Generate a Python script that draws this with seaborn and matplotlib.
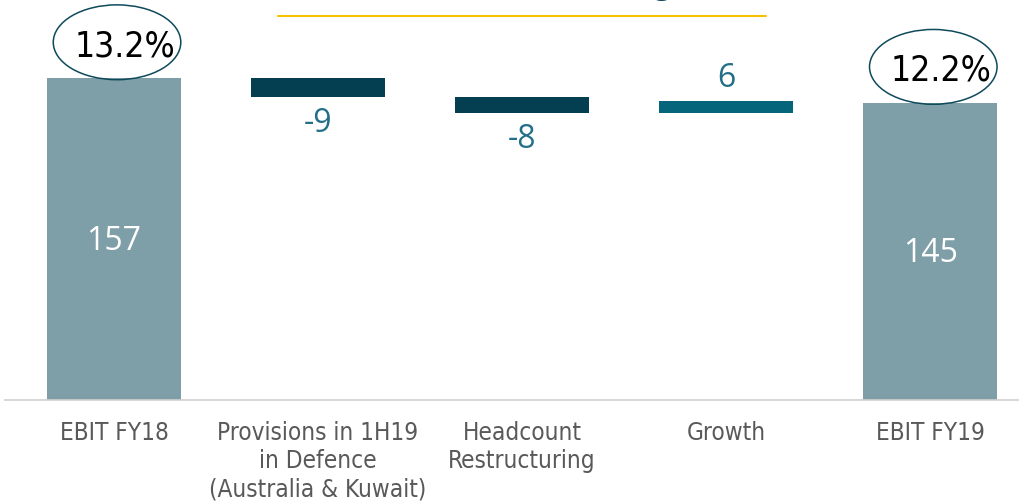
import numpy as np
import pandas as pd
import matplotlib
matplotlib.use("Agg")
import matplotlib.pyplot as plt
from matplotlib.patches import Ellipse
from matplotlib import font_manager
import seaborn as sns

# EBIT bridge FY18 -> FY19
categories = ["EBIT FY18", "Provisions in 1H19\nin Defence\n(Australia & Kuwait)",
              "Headcount\nRestructuring", "Growth", "EBIT FY19"]
changes = [157, -9, -8, 6, 145]
kinds = ["total", "delta", "delta", "delta", "total"]
margins = {0: "13.2%", 4: "12.2%"}

colors = {"total": "#7F9FA8", "neg": "#033F50", "pos": "#05657B"}

sns.set_theme(style="white")
plt.rcParams["font.family"] = ["Open Sans", "DejaVu Sans"]

# pick a condensed face for the category labels if one is installed
cond = [f for f in font_manager.fontManager.ttflist
        if "ondensed" in f.name or "Narrow" in f.name or f.stretch in ("condensed", "semi-condensed")]
cond_family = cond[0].name if cond else "DejaVu Sans"
cond_stretch = cond[0].stretch if cond else "normal"

# waterfall geometry
bottoms, heights, tops = [], [], []
running = 0
for kind, v in zip(kinds, changes):
    if kind == "total":
        bottoms.append(0)
        heights.append(v)
        running = v
    else:
        lo = min(running, running + v)
        bottoms.append(lo)
        heights.append(abs(v))
        running += v
    tops.append(bottoms[-1] + heights[-1])

df = pd.DataFrame({"cat": categories, "height": heights})

fig = plt.figure(figsize=(10.2, 5.01), dpi=100)
ax = fig.add_axes([5 / 1020, 101 / 501, 1 - 5 / 1020, 400 / 501])

sns.barplot(data=df, x="cat", y="height", bottom=np.array(bottoms, float),
            width=0.657, color=colors["total"], ax=ax, errorbar=None)
for p, kind, v in zip(ax.patches, kinds, changes):
    if kind == "total":
        p.set_facecolor(colors["total"])
    else:
        p.set_facecolor(colors["neg"] if v < 0 else colors["pos"])
    p.set_edgecolor("none")

ax.set_xlim(-0.534, 4.44)
ax.set_ylim(0, 400 / 2.05)

# value labels
lbl = dict(fontsize=23, ha="center", va="center")
for i, (kind, v) in enumerate(zip(kinds, changes)):
    if kind == "total":
        ax.text(i, v * 0.494, f"{v}", color="white", **lbl)
    elif v < 0:
        ax.text(i, bottoms[i] - 13, f"{v}", color="#226F87", **lbl)
    else:
        ax.text(i, tops[i] + 11, f"{v}", color="#226F87", **lbl)

# margin callouts
for i, txt in margins.items():
    y = tops[i] + 15.5
    ax.text(i + 0.055, y, txt, fontsize=25.5, ha="center", va="center", color="black",
            family=[cond_family, "DejaVu Sans"], fontstretch=cond_stretch)
    ax.add_patch(Ellipse((i + 0.015, y + 2), 0.625, 36.5, fill=False,
                         edgecolor="#0E4A5A", lw=1.1, clip_on=False))

# x axis
ax.set_xticks(range(len(categories)))
ax.set_xticklabels(categories, fontsize=17.5, color="#595959",
                   family=[cond_family, "DejaVu Sans"], fontstretch=cond_stretch,
                   linespacing=1.22)
ax.tick_params(axis="x", length=0, pad=15)
ax.set_xlabel("")
ax.set_ylabel("")
ax.set_yticks([])
for s in ["top", "right", "left"]:
    ax.spines[s].set_visible(False)
ax.spines["bottom"].set_color("#D0D0D0")
ax.spines["bottom"].set_linewidth(1.2)

# header rule, with the title running off the top edge
fig.add_artist(plt.Line2D([278 / 1020, 766 / 1020], [1 - 16 / 501, 1 - 16 / 501],
                          color="#F5C200", lw=1.5, transform=fig.transFigure))
fig.text(662 / 1020, 1 + 6 / 501, "g", fontsize=22, color="#0E4A5A",
         ha="center", va="baseline")

fig.savefig("out.png", dpi=100)
